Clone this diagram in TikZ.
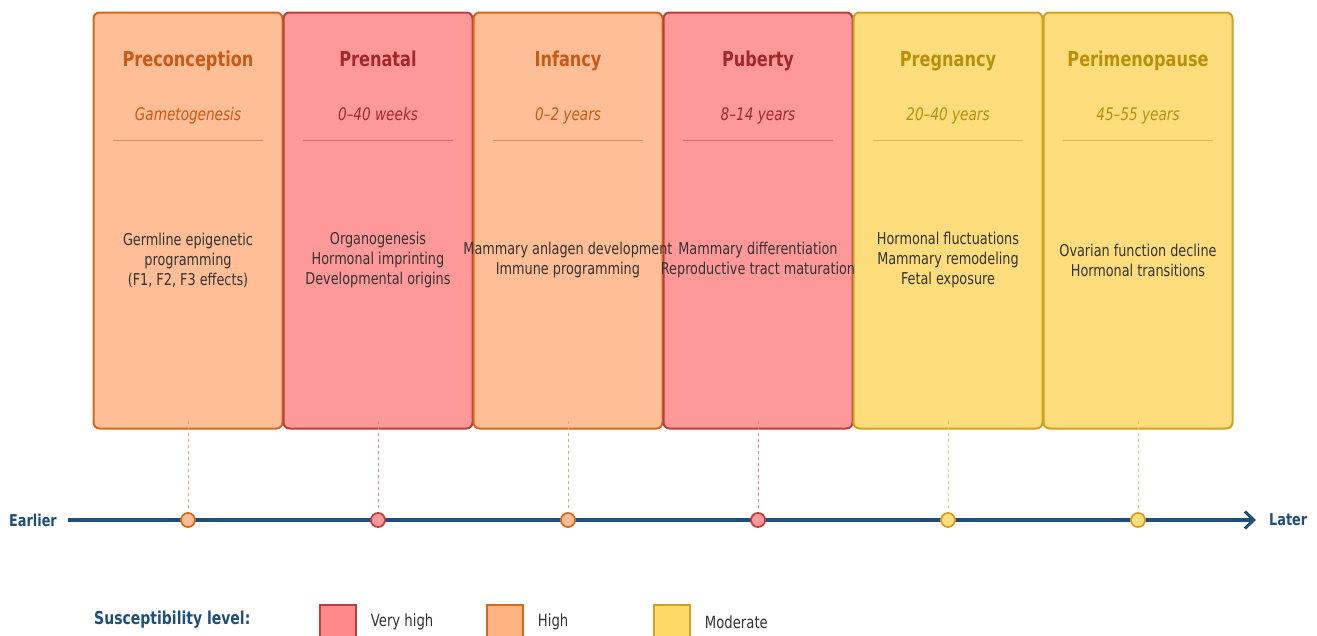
\documentclass[tikz,border=0pt]{standalone}
\usepackage{fontspec}
\setmainfont{DejaVu Sans Condensed}[FakeStretch=0.875]
\usetikzlibrary{calc, positioning, arrows.meta}

\definecolor{vhfill}{HTML}{FF9999}
\definecolor{vhline}{HTML}{B8403F}
\definecolor{vhtitle}{HTML}{A3282B}
\definecolor{vhkey}{HTML}{FF8A8A}
\definecolor{hifill}{HTML}{FFBE96}
\definecolor{hiline}{HTML}{D2691E}
\definecolor{hititle}{HTML}{C95A17}
\definecolor{hikey}{HTML}{FFB380}
\definecolor{mdfill}{HTML}{FFDD7D}
\definecolor{mdline}{HTML}{D1A122}
\definecolor{mdtitle}{HTML}{B8900B}
\definecolor{mdkey}{HTML}{FFD966}
\definecolor{axisblue}{HTML}{1F4E79}
\definecolor{txtgray}{HTML}{333333}

\begin{document}
\begin{tikzpicture}[x=1pt, y=-1pt,
        stage/.style={rounded corners=6pt, line width=2pt, minimum width=189pt, minimum height=416pt, inner sep=0pt},
        vh/.style={stage, fill=vhfill, draw=vhline},
        hi/.style={stage, fill=hifill, draw=hiline},
        md/.style={stage, fill=mdfill, draw=mdline},
        title/.style={font=\bfseries\fontsize{20.5}{24}\selectfont, anchor=base},
        span/.style={font=\itshape\fontsize{17.3}{20}\selectfont, anchor=base},
        body/.style={font=\fontsize{16.3}{20}\selectfont, text=txtgray, align=center},
        dot/.style={circle, line width=1.8pt, minimum size=14pt, inner sep=0pt},
        link/.style={line width=0.9pt, dash pattern=on 3pt off 3pt},
        key/.style={minimum width=36pt, minimum height=32pt, line width=1.5pt, inner sep=0pt},
        keylbl/.style={font=\fontsize{16.8}{19}\selectfont, text=txtgray, anchor=west},
        axislbl/.style={font=\bfseries\fontsize{16.3}{19}\selectfont, text=axisblue},
        ]

    \useasboundingbox (0,0) rectangle (1317,635);

    % stages
    \node (S1) at (188, 220.5) [hi] {};
    \node (S2) at (378, 220.5) [vh] {};
    \node (S3) at (568, 220.5) [hi] {};
    \node (S4) at (758, 220.5) [vh] {};
    \node (S5) at (948, 220.5) [md] {};
    \node (S6) at (1138, 220.5) [md] {};

    \node (T1) at (188, 66) [title, text=hititle] {Preconception};
    \node (T2) at (378, 66) [title, text=vhtitle] {Prenatal};
    \node (T3) at (568, 66) [title, text=hititle] {Infancy};
    \node (T4) at (758, 66) [title, text=vhtitle] {Puberty};
    \node (T5) at (948, 66) [title, text=mdtitle] {Pregnancy};
    \node (T6) at (1138, 66) [title, text=mdtitle] {Perimenopause};

    \node (P1) at (188, 120) [span, text=hititle] {Gametogenesis};
    \node (P2) at (378, 120) [span, text=vhtitle] {0--40 weeks};
    \node (P3) at (568, 120) [span, text=hititle] {0--2 years};
    \node (P4) at (758, 120) [span, text=vhtitle] {8--14 years};
    \node (P5) at (948, 120) [span, text=mdtitle] {20--40 years};
    \node (P6) at (1138, 120) [span, text=mdtitle] {45--55 years};

    \draw [hiline!75, line width=1pt] ($(S1.north) + (-75, 129)$) -- ++(150, 0);
    \draw [vhline!75, line width=1pt] ($(S2.north) + (-75, 129)$) -- ++(150, 0);
    \draw [hiline!75, line width=1pt] ($(S3.north) + (-75, 129)$) -- ++(150, 0);
    \draw [vhline!75, line width=1pt] ($(S4.north) + (-75, 129)$) -- ++(150, 0);
    \draw [mdline!75, line width=1pt] ($(S5.north) + (-75, 129)$) -- ++(150, 0);
    \draw [mdline!75, line width=1pt] ($(S6.north) + (-75, 129)$) -- ++(150, 0);

    \node (B1) at (188, 260) [body] {Germline epigenetic\\programming\\(F1, F2, F3 effects)};
    \node (B2) at (378, 260) [body] {Organogenesis\\Hormonal imprinting\\Developmental origins};
    \node (B3) at (568, 260) [body] {Mammary anlagen development\\Immune programming};
    \node (B4) at (758, 260) [body] {Mammary differentiation\\Reproductive tract maturation};
    \node (B5) at (948, 260) [body] {Hormonal fluctuations\\Mammary remodeling\\Fetal exposure};
    \node (B6) at (1138, 260) [body] {Ovarian function decline\\Hormonal transitions};

    % timeline
    \coordinate (tl0) at (68, 520);
    \coordinate (tl1) at (1256, 520);
    \draw [axisblue, line width=3.5pt, -{Straight Barb[length=9pt, width=17pt, line width=3pt]}] (tl0) -- (tl1);
    \node (early) [axislbl, left=11pt of tl0, inner sep=0pt] {Earlier};
    \node (late) [axislbl, right=13pt of tl1, inner sep=0pt] {Later};

    \node (D1) at (188, 520) [dot, fill=hifill, draw=hiline] {};
    \node (D2) at (378, 520) [dot, fill=vhfill, draw=vhline] {};
    \node (D3) at (568, 520) [dot, fill=hifill, draw=hiline] {};
    \node (D4) at (758, 520) [dot, fill=vhfill, draw=vhline] {};
    \node (D5) at (948, 520) [dot, fill=mdfill, draw=mdline] {};
    \node (D6) at (1138, 520) [dot, fill=mdfill, draw=mdline] {};

    \draw [link, hiline!60] ($(S1.south) + (0, -9)$) -- ($(D1.north) + (0, -2)$);
    \draw [link, vhline!60] ($(S2.south) + (0, -9)$) -- ($(D2.north) + (0, -2)$);
    \draw [link, hiline!60] ($(S3.south) + (0, -9)$) -- ($(D3.north) + (0, -2)$);
    \draw [link, vhline!60] ($(S4.south) + (0, -9)$) -- ($(D4.north) + (0, -2)$);
    \draw [link, mdline!60] ($(S5.south) + (0, -9)$) -- ($(D5.north) + (0, -2)$);
    \draw [link, mdline!60] ($(S6.south) + (0, -9)$) -- ($(D6.north) + (0, -2)$);

    % legend
    \node (leg) at (94, 620) [axislbl, font=\bfseries\fontsize{17.8}{20}\selectfont, anchor=west, inner sep=0pt] {Susceptibility level:};
    \node (K1) at (338, 621) [key, fill=vhkey, draw=vhline] {};
    \node (K2) at (505, 621) [key, fill=hikey, draw=hiline] {};
    \node (K3) at (672, 621) [key, fill=mdkey, draw=mdline] {};
    \node (L1) [keylbl, right=14pt of K1.east, inner sep=0pt, yshift=-1pt] {Very high};
    \node (L2) [keylbl, right=14pt of K2.east, inner sep=0pt, yshift=-1pt] {High};
    \node (L3) [keylbl, right=14pt of K3.east, inner sep=0pt, yshift=-1pt] {Moderate};
\end{tikzpicture}
\end{document}
